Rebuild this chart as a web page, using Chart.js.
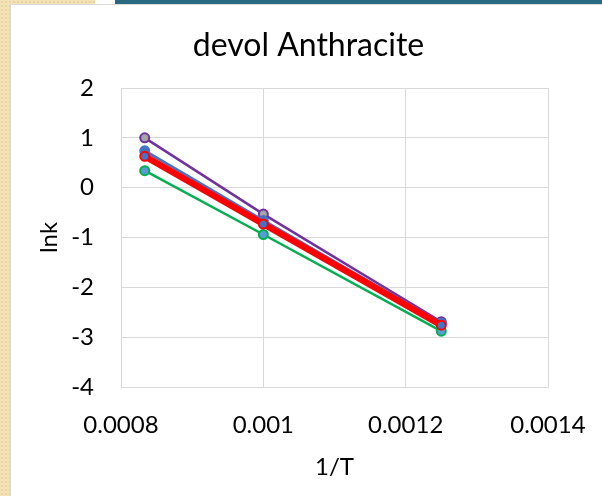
<!DOCTYPE html>
<html>
<head>
<meta charset="utf-8">
<script src="https://cdn.jsdelivr.net/npm/chart.js@4/dist/chart.umd.min.js"></script>
<style>
  html, body { margin: 0; padding: 0; }
  body {
    width: 602px; height: 496px; overflow: hidden; position: relative;
    background-color: #F2E2B6;
    background-image: radial-gradient(circle, rgba(225,200,140,0.55) 1px, transparent 1.3px);
    background-size: 4px 4px;
  }
  #topWhite { position: absolute; left: 95px; top: 0; width: 20px; height: 5px; background: #ffffff; }
  #topBar { position: absolute; left: 115px; top: 0; right: 0; height: 4px; background: #286B80; }
  #panel {
    position: absolute; left: 10px; top: 4px; right: 0; bottom: 0;
    background: #ffffff; border-left: 1px solid #D9D9D9; border-top: 1px solid #D9D9D9;
  }
  #wrap { position: absolute; left: 11px; top: 5px; width: 591px; height: 491px; }
</style>
</head>
<body>
<div id="topWhite"></div>
<div id="topBar"></div>
<div id="panel"></div>
<div id="wrap"><canvas id="c" width="591" height="491"></canvas></div>
<script>
// Reciprocal temperatures (1/K) at 1200 K, 1000 K and 800 K
const invT = [1 / 1200, 1 / 1000, 1 / 800];

// ln k for each kinetic parameter set
const lnkPurple = [1.00, -0.53, -2.69];
const lnkBlue   = [0.74, -0.66, -2.72];
const lnkRed    = [0.63, -0.73, -2.76];
const lnkGreen  = [0.34, -0.94, -2.88];

// Axis ticks
const xTickValues = [0.0008, 0.001, 0.0012, 0.0014];
const xTickLabels = ['0.0008', '0.001', '0.0012', '0.0014'];
const yTickValues = [-4, -3, -2, -1, 0, 1, 2];
const yTickLabels = ['-4', '-3', '-2', '-1', '0', '1', '2'];

const FONT = 'Lato, "Open Sans", sans-serif';
const PAD_L = 58, PAD_R = 54;

function pts(ys) { return invT.map((x, i) => ({ x: x, y: ys[i] })); }

const datasets = [
  { data: pts(lnkRed), borderColor: '#FF0000', borderWidth: 6.5,
    pointBackgroundColor: '#4472C4', pointBorderColor: '#FF0000', pointBorderWidth: 2, pointRadius: 4.5 },
  { data: pts(lnkBlue), borderColor: '#4472C4', borderWidth: 3,
    pointBackgroundColor: '#4472C4', pointBorderColor: '#4472C4', pointBorderWidth: 2, pointRadius: 4.5 },
  { data: pts(lnkPurple), borderColor: '#7030A0', borderWidth: 2.5,
    pointBackgroundColor: '#A5A5A5', pointBorderColor: '#7030A0', pointBorderWidth: 2, pointRadius: 4.5 },
  { data: pts(lnkGreen), borderColor: '#00B050', borderWidth: 2.5,
    pointBackgroundColor: '#5B9BD5', pointBorderColor: '#00B050', pointBorderWidth: 2, pointRadius: 4.5 }
];

new Chart(document.getElementById('c'), {
  type: 'scatter',
  data: { datasets: datasets.map(d => Object.assign({ showLine: true, fill: false, tension: 0 }, d)) },
  options: {
    responsive: false,
    animation: false,
    layout: { padding: { left: PAD_L, right: PAD_R, top: 0, bottom: 0 } },
    plugins: {
      legend: { display: false },
      tooltip: { enabled: false },
      title: {
        display: true, text: 'devol Anthracite', color: '#000000',
        font: { family: FONT, size: 32, weight: 'normal' },
        padding: { top: 21, bottom: 23.6 }
      }
    },
    scales: {
      x: {
        type: 'linear', min: 0.0008, max: 0.0014,
        afterBuildTicks: s => { s.ticks = xTickValues.map(v => ({ value: v })); },
        afterFit: s => { s.height = 109; s.paddingLeft = 0; s.paddingRight = 0; },
        ticks: {
          autoSkip: false, maxRotation: 0, minRotation: 0, padding: 24, color: '#000000',
          font: { family: FONT, size: 24 },
          callback: (v, i) => xTickLabels[i]
        },
        grid: { color: '#D9D9D9', lineWidth: 1, drawTicks: false },
        border: { color: '#D9D9D9' },
        title: {
          display: true, text: '1/T', color: '#000000',
          font: { family: FONT, size: 24 }, padding: { top: 0, bottom: 14 }
        }
      },
      y: {
        type: 'linear', min: -4, max: 2,
        afterBuildTicks: s => { s.ticks = yTickValues.map(v => ({ value: v })); },
        afterFit: s => { s.width = 110 - PAD_L; s.paddingTop = 0; s.paddingBottom = 0; },
        ticks: {
          padding: 27, color: '#000000',
          font: { family: FONT, size: 24 },
          callback: (v, i) => yTickLabels[i]
        },
        grid: { color: '#D9D9D9', lineWidth: 1, drawTicks: false },
        border: { color: '#D9D9D9' },
        title: {
          display: true, text: 'lnk', color: '#000000',
          font: { family: FONT, size: 24 }, padding: { top: 24 - PAD_L, bottom: 0 }
        }
      }
    }
  },
  plugins: [{
    id: 'topFrame',
    afterDraw(chart) {
      // close the plot frame along the top edge
      const a = chart.chartArea, ctx = chart.ctx;
      ctx.save();
      ctx.strokeStyle = '#D9D9D9'; ctx.lineWidth = 1;
      ctx.beginPath();
      ctx.moveTo(a.left, a.top + 0.5); ctx.lineTo(a.right, a.top + 0.5);
      ctx.stroke();
      ctx.restore();
    }
  }]
});
</script>
</body>
</html>
